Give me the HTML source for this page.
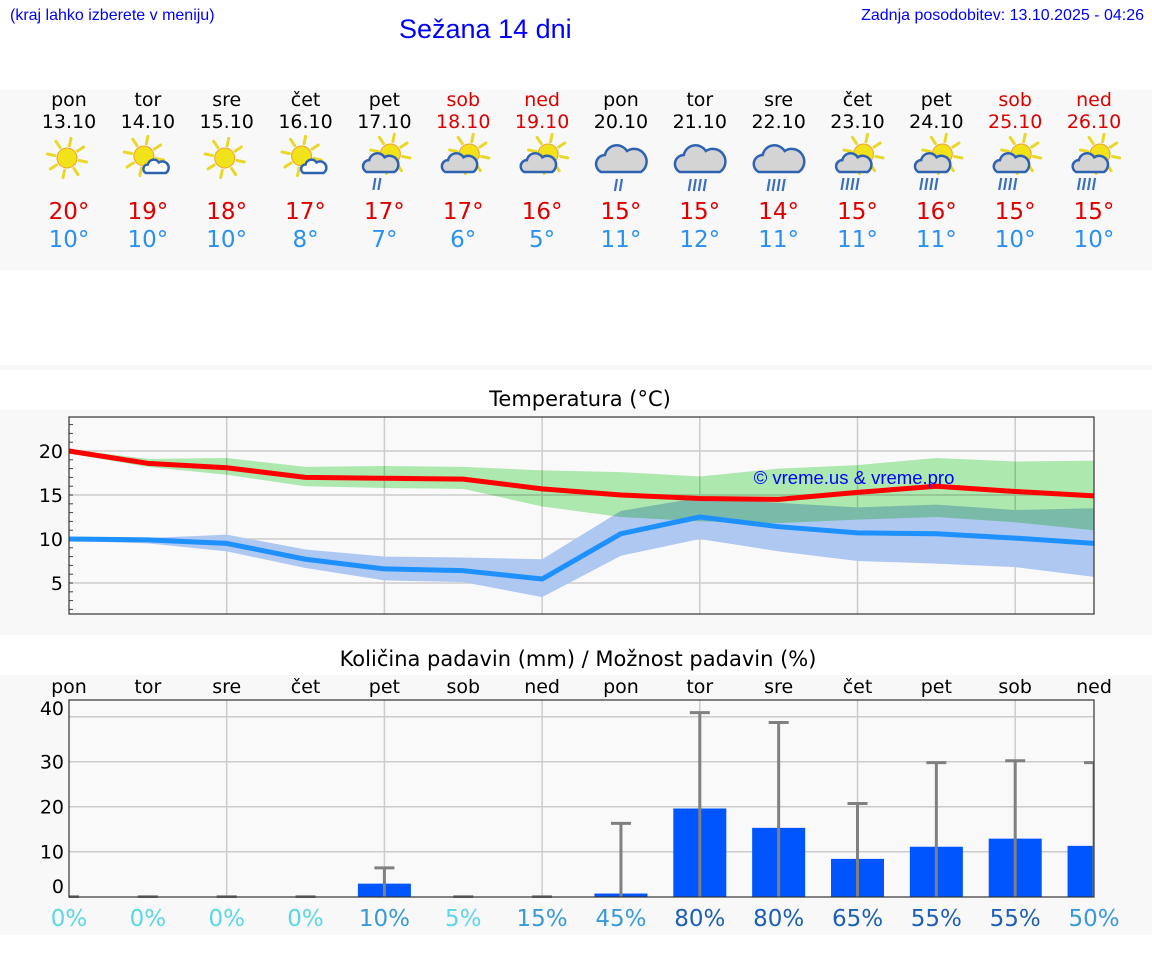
<!DOCTYPE html>
<html><head><meta charset="utf-8"><style>
body{margin:0;width:1152px;height:975px;background:#fff;font-family:"DejaVu Sans","Liberation Sans",sans-serif;position:relative;overflow:hidden}
.a{position:absolute;white-space:nowrap}
.band{position:absolute;left:0;width:1152px;background:#f8f8f8}
.c{transform:translateX(-50%);text-align:center}
</style></head><body>
<div class="a" style="left:10px;top:7px;font-size:16px;color:#00f;font-family:'Liberation Sans',sans-serif">(kraj lahko izberete v meniju)</div>
<div class="a" style="left:399px;top:14px;font-size:27px;color:#00f;font-family:'Liberation Sans',sans-serif">Sežana 14 dni</div>
<div class="a" style="right:8px;top:7px;font-size:16px;color:#00f;font-family:'Liberation Sans',sans-serif">Zadnja posodobitev: 13.10.2025 - 04:26</div>
<div class="band" style="top:90px;height:180px"></div>
<div class="band" style="top:365px;height:5px"></div>
<div class="band" style="top:410px;height:225px"></div>
<div class="band" style="top:675px;height:260px"></div>
<div id="days"></div>
<div class="a c" style="left:580px;top:387px;font-size:21px">Temperatura (°C)</div>
<div class="a c" style="left:578px;top:647px;font-size:21px">Količina padavin (mm) / Možnost padavin (%)</div>
<svg id="ch" width="1152" height="975" style="position:absolute;left:0;top:0" xmlns="http://www.w3.org/2000/svg"></svg>
<script>
const dayNames=["pon","tor","sre","čet","pet","sob","ned","pon","tor","sre","čet","pet","sob","ned"];
const dates=["13.10","14.10","15.10","16.10","17.10","18.10","19.10","20.10","21.10","22.10","23.10","24.10","25.10","26.10"];
const maxT=[20,19,18,17,17,17,16,15,15,14,15,16,15,15];
const minT=[10,10,10,8,7,6,5,11,12,11,11,11,10,10];
const icons=["sun","sunc","sun","sunc","sunr","sung","sung","rain","rain","rain","sunr","sunr","sunr","sunr"];
const maxLine=[20,18.6,18.1,17,16.9,16.8,15.7,15.0,14.6,14.5,15.3,16.0,15.4,14.9];
const maxHi=[20.2,19.1,19.2,18.2,18.3,18.2,17.8,17.6,17.1,18.0,18.4,19.2,18.8,18.9];
const maxLo=[19.7,18.2,17.3,16.0,15.8,15.7,13.7,12.5,12.0,11.8,12.2,12.5,11.9,11.0];
const minLine=[10,9.9,9.5,7.7,6.6,6.4,5.45,10.6,12.5,11.4,10.7,10.6,10.1,9.5];
const minHi=[10.1,10.1,10.5,8.8,8.0,7.9,7.7,13.2,14.7,14.1,13.6,13.9,13.3,13.5];
const minLo=[9.8,9.5,8.6,6.7,5.3,5.1,3.4,8.1,10.0,8.6,7.5,7.2,6.8,5.7];
const tempTicks=[5,10,15,20];
const rain=[0,0,0,0,2.9,0,0,0.7,19.6,15.3,8.4,11.1,12.9,11.3];
const rainHi=[0,0,0,0,6.4,0,0,16.3,40.9,38.7,20.7,29.8,30.2,29.8];
const rainTicks=[0,10,20,30,40];
const prob=[0,0,0,0,10,5,15,45,80,80,65,55,55,50];

const X=i=>69+i*78.85;
const TY=v=>451+(20-v)*8.8;
const PY=v=>896.7-v*4.5;
const NS="http://www.w3.org/2000/svg";
const svg=document.getElementById('ch');
function el(t,a,p){const e=document.createElementNS(NS,t);for(const k in a)e.setAttribute(k,a[k]);(p||svg).appendChild(e);return e;}

const days=document.getElementById('days');
function sun(g,cx,cy,r){for(let k=0;k<8;k++){const an=k*Math.PI/4+0.2;el('line',{x1:cx+Math.cos(an)*r*1.25,y1:cy+Math.sin(an)*r*1.25,x2:cx+Math.cos(an)*r*2,y2:cy+Math.sin(an)*r*2,stroke:'#e8d82a','stroke-width':3,'stroke-linecap':'round'},g);}el('circle',{cx:cx,cy:cy,r:r,fill:'#f2e21a',stroke:'#f0a030','stroke-width':1},g);}
function cloud(g,cx,cy,s,fill){el('path',{d:`M${cx-s} ${cy+s*0.5} a${s*0.45} ${s*0.45} 0 0 1 ${s*0.2} ${-s*0.85} a${s*0.6} ${s*0.6} 0 0 1 ${s*1.1} ${-s*0.2} a${s*0.45} ${s*0.45} 0 0 1 ${s*0.7} ${s*1.05} z`,fill:fill,stroke:'#2f62b0','stroke-width':2.5},g);}
function drops(g,cx,cy,n){for(let k=0;k<n;k++){el('line',{x1:cx+k*5-n*2.5+2,y1:cy,x2:cx+k*5-n*2.5,y2:cy+12,stroke:'#3a6fc0','stroke-width':2.2},g);}}
for(let i=0;i<14;i++){
  const x=X(i),we=(i%7>=5);
  const d=document.createElement('div');d.className='a c';d.style.cssText=`left:${x}px;top:89px;font-size:19px;line-height:22px;color:${we?'#d00':'#000'}`;d.innerHTML=dayNames[i]+'<br>'+dates[i];
  
  
  days.appendChild(d);
  const t=document.createElement('div');t.className='a c';t.style.cssText=`left:${x}px;top:198px;font-size:23px;line-height:28px`;t.innerHTML=`<span style="color:#d00">${maxT[i]}°</span><br><span style="color:#2a90f0">${minT[i]}°</span>`;
  
  
  days.appendChild(t);
  const g=el('g',{});
  
  
  const ic=icons[i],cy=158;
  if(ic==='sun')sun(g,x-2,cy,10);
  if(ic==='sunc'){sun(g,x-4,cy-2,10);cloud(g,x+8,cy+10,10,'#fff');}
  if(ic==='sunr'||ic==='sung'){sun(g,x+6,cy-4,10);cloud(g,x-4,cy+7,14,'#d4d4d4');if(ic==='sunr')drops(g,x-6,cy+20,i>4?4:2);}
  if(ic==='rain'){cloud(g,x,cy+4,20,'#d4d4d4');drops(g,x-1,cy+21,i===7?2:4);}
}

const tp=el('g',{});


el('rect',{x:69,y:417,width:1025,height:197,fill:'#f9f9f9'},tp);
for(const v of tempTicks){el('line',{x1:69,x2:1094,y1:TY(v),y2:TY(v),stroke:'#ccc','stroke-width':1.5},tp);
 const t=el('text',{x:63,y:TY(v)+7,'text-anchor':'end','font-size':19,fill:'#000'},tp);t.textContent=v;}
for(let v=2;v<=23;v++)el('line',{x1:69,x2:73,y1:TY(v),y2:TY(v),stroke:'#444'},tp);
for(let i=2;i<14;i+=2)el('line',{x1:X(i),x2:X(i),y1:417,y2:614,stroke:'#ccc','stroke-width':1.5},tp);
function band(hi,lo,fill,extra){let d='M'+hi.map((v,i)=>X(i)+' '+TY(v)).join(' L')+' L'+lo.map((v,i)=>[X(i),TY(v)]).reverse().map(p=>p.join(' ')).join(' L')+'Z';const p=el('path',Object.assign({d:d,fill:fill},extra||{}),tp);return p;}
const bb=band(minHi,minLo,'#aec8f2');
const gb=band(maxHi,maxLo,'#b1eeb2',{style:'mix-blend-mode:multiply'});
function line(a,c,n){const p=el('polyline',{points:a.map((v,i)=>X(i)+','+TY(v)).join(' '),fill:'none',stroke:c,'stroke-width':5,'stroke-linejoin':'round'},tp);}
line(minLine,'#1e90ff','min-temp-line');
line(maxLine,'#ff0000','max-temp-line');
const cp=el('text',{x:854,y:484,'text-anchor':'middle','font-size':18.5,fill:'#00f','font-family':'Liberation Sans, sans-serif'},tp);cp.textContent='© vreme.us & vreme.pro';
el('rect',{x:69,y:417,width:1025,height:197,fill:'none',stroke:'#333','stroke-width':1.2},tp);

const pp=el('g',{});


el('rect',{x:69,y:700,width:1025,height:197,fill:'#f9f9f9'},pp);
const clip=el('clipPath',{id:'pc'},pp);
el('rect',{x:69,y:698,width:1025,height:200},clip);
for(const v of rainTicks){if(v>0)el('line',{x1:69,x2:1094,y1:PY(v),y2:PY(v),stroke:'#ccc','stroke-width':1.5},pp);
 const ly=v===40?715:(v===0?893:PY(v)+7);
 const t=el('text',{x:64,y:ly,'text-anchor':'end','font-size':19,fill:'#000'},pp);t.textContent=v;}
for(let i=2;i<14;i+=2)el('line',{x1:X(i),x2:X(i),y1:700,y2:897,stroke:'#ccc','stroke-width':1.5},pp);
const cg=el('g',{'clip-path':'url(#pc)'},pp);
for(let i=0;i<14;i++){
 const x=X(i);
 if(rain[i]>0){const b=el('rect',{x:x-26.5,y:PY(rain[i]),width:53,height:PY(0)-PY(rain[i]),fill:'#0055ff'},cg);}
 if(rainHi[i]>0)el('line',{x1:x,x2:x,y1:PY(0),y2:PY(rainHi[i]),stroke:'#808080','stroke-width':3},cg);
 el('line',{x1:x-10,x2:x+10,y1:PY(rainHi[i]),y2:PY(rainHi[i]),stroke:'#808080','stroke-width':3},cg);
 const dn=el('text',{x:x,y:693,'text-anchor':'middle','font-size':19,fill:'#000'});dn.textContent=dayNames[i];
 const pc=prob[i];const col=pc<10?'#5dd6e6':(pc<55?'#3a9ad8':'#1e5fb6');
 const pt=el('text',{x:x,y:926,'text-anchor':'middle','font-size':23,fill:col});pt.textContent=pc+'%';
 
}
el('rect',{x:69,y:700,width:1025,height:197,fill:'none',stroke:'#333','stroke-width':1.2},pp);
</script>
</body></html>
